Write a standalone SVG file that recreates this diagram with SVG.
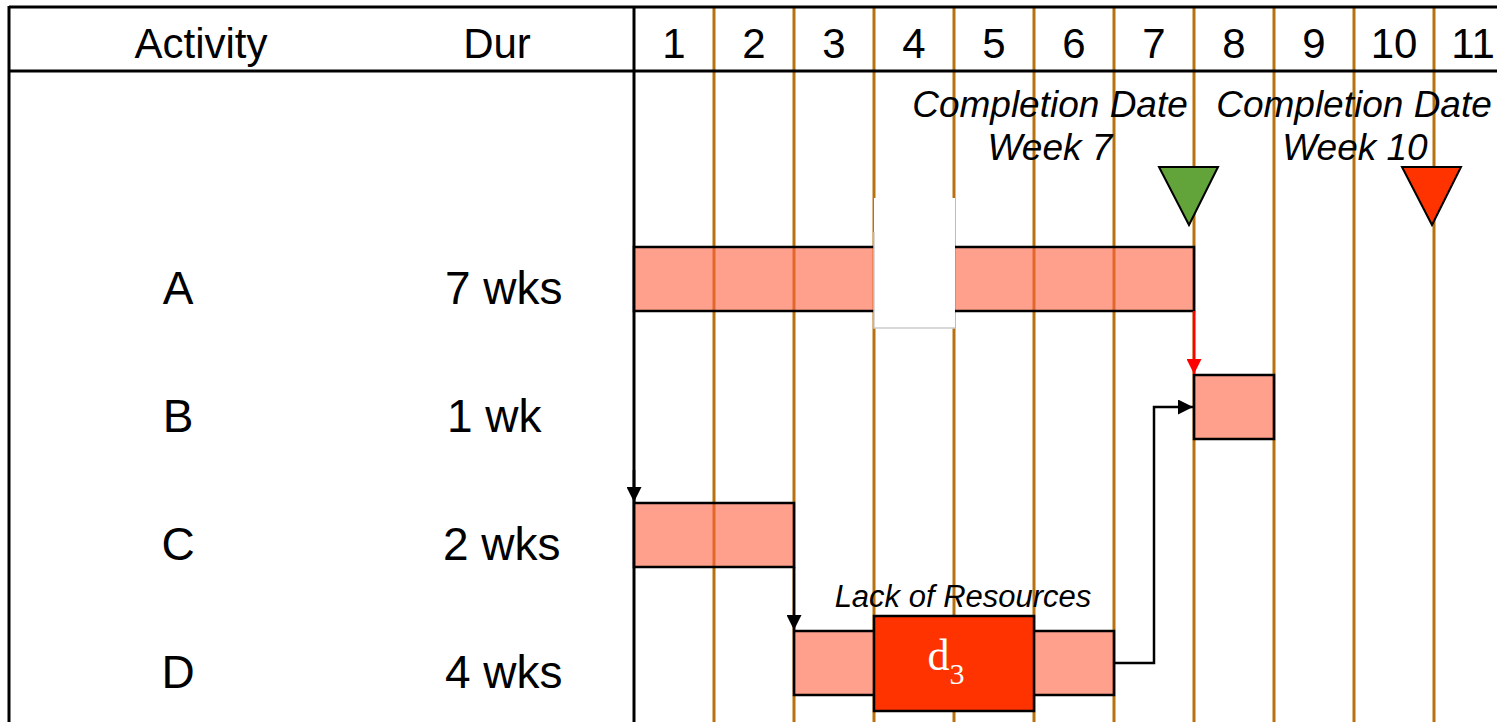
<svg xmlns="http://www.w3.org/2000/svg" width="1497" height="722" viewBox="0 0 1497 722">
<defs>
<style>
.t{font-family:"Liberation Sans",Arial,sans-serif;fill:#000}
.h{font-size:42px;text-anchor:middle}
.r{font-size:46px}
.it{font-style:italic;text-anchor:middle}
.wk{stroke:#b8720d;stroke-width:3}
.bar{fill:#ff6040;fill-opacity:0.6;stroke:#000;stroke-width:2.5}
.con{fill:none;stroke:#000;stroke-width:2.5}
</style>
<marker id="ah" viewBox="0 0 10 10" refX="10" refY="5" markerWidth="6" markerHeight="6" markerUnits="strokeWidth" orient="auto"><path d="M0,0L10,5L0,10z" fill="#000"/></marker>
<marker id="ahr" viewBox="0 0 10 10" refX="10" refY="5" markerWidth="6" markerHeight="6" markerUnits="strokeWidth" orient="auto"><path d="M0,0L10,5L0,10z" fill="#ff0000"/></marker>
</defs>
<rect width="1497" height="722" fill="#fff"/>
<g id="grid">
<line class="wk" x1="714" y1="7" x2="714" y2="722"/>
<line class="wk" x1="794" y1="7" x2="794" y2="722"/>
<line class="wk" x1="874" y1="7" x2="874" y2="722"/>
<line class="wk" x1="954" y1="7" x2="954" y2="722"/>
<line class="wk" x1="1034" y1="7" x2="1034" y2="722"/>
<line class="wk" x1="1114" y1="7" x2="1114" y2="722"/>
<line class="wk" x1="1194" y1="7" x2="1194" y2="722"/>
<line class="wk" x1="1274" y1="7" x2="1274" y2="722"/>
<line class="wk" x1="1354" y1="7" x2="1354" y2="722"/>
<line class="wk" x1="1434" y1="7" x2="1434" y2="722"/>
<line x1="9" y1="7" x2="1497" y2="7" stroke="#000" stroke-width="3"/>
<line x1="9" y1="71" x2="1497" y2="71" stroke="#000" stroke-width="3"/>
<line x1="9" y1="6" x2="9" y2="722" stroke="#000" stroke-width="3"/>
<line x1="634" y1="6" x2="634" y2="722" stroke="#000" stroke-width="3"/>
</g>
<g id="header">
<text class="t h" x="201" y="58">Activity</text>
<text class="t h" x="497" y="58">Dur</text>
<text class="t h" x="674" y="58">1</text>
<text class="t h" x="754" y="58">2</text>
<text class="t h" x="834" y="58">3</text>
<text class="t h" x="914" y="58">4</text>
<text class="t h" x="994" y="58">5</text>
<text class="t h" x="1074" y="58">6</text>
<text class="t h" x="1154" y="58">7</text>
<text class="t h" x="1234" y="58">8</text>
<text class="t h" x="1314" y="58">9</text>
<text class="t h" x="1394" y="58">10</text>
<text class="t h" x="1473" y="58">11</text>
</g>
<g id="labels">
<text class="t r" x="178" y="304" text-anchor="middle">A</text>
<text class="t r" x="445" y="304">7 wks</text>
<text class="t r" x="178" y="432" text-anchor="middle">B</text>
<text class="t r" x="447" y="432">1 wk</text>
<text class="t r" x="178" y="560" text-anchor="middle">C</text>
<text class="t r" x="443" y="560">2 wks</text>
<text class="t r" x="178" y="688" text-anchor="middle">D</text>
<text class="t r" x="445" y="688">4 wks</text>
</g>
<g id="activity-A">
<rect class="bar" x="634" y="247" width="560" height="64"/>
<rect x="874" y="198" width="81" height="130" fill="#fff"/>
<path d="M874,232V328H955" fill="none" stroke="#ccc" stroke-width="1.5"/>
</g>
<g id="activity-B"><rect class="bar" x="1194" y="375" width="80" height="64"/></g>
<g id="activity-C"><rect class="bar" x="634" y="503" width="160" height="64"/></g>
<g id="activity-D"><rect class="bar" x="794" y="631" width="320" height="64"/></g>
<g id="delay-d3">
<rect x="874" y="616" width="160" height="95" fill="#ff3300" stroke="#000" stroke-width="2.5"/>
<text x="946" y="670" font-family="'Liberation Serif','Times New Roman',serif" font-size="44" fill="#fff" text-anchor="middle">d<tspan font-size="30" dy="14">3</tspan></text>
</g>
<g id="milestone-week7">
<polygon points="1159,167 1218,167 1189,225" fill="#62a33a" stroke="#000" stroke-width="2"/>
<text class="t it" x="1050" y="117" font-size="37">Completion Date</text>
<text class="t it" x="1050" y="160" font-size="37">Week 7</text>
</g>
<g id="milestone-week10">
<polygon points="1402,167 1461,167 1432,225" fill="#ff3300" stroke="#000" stroke-width="2"/>
<text class="t it" x="1354" y="117" font-size="37">Completion Date</text>
<text class="t it" x="1355" y="160" font-size="37">Week 10</text>
</g>
<text class="t it" x="963" y="607" font-size="31">Lack of Resources</text>
<g id="connectors">
<line x1="1194" y1="311" x2="1194" y2="374" fill="none" stroke="#ff0000" stroke-width="2.5" marker-end="url(#ahr)"/>
<line x1="634" y1="470" x2="634" y2="502" class="con" marker-end="url(#ah)"/>
<line x1="794" y1="567" x2="794" y2="630" class="con" marker-end="url(#ah)"/>
<polyline points="1114,663 1154,663 1154,407 1193,407" class="con" marker-end="url(#ah)"/>
</g>
</svg>
